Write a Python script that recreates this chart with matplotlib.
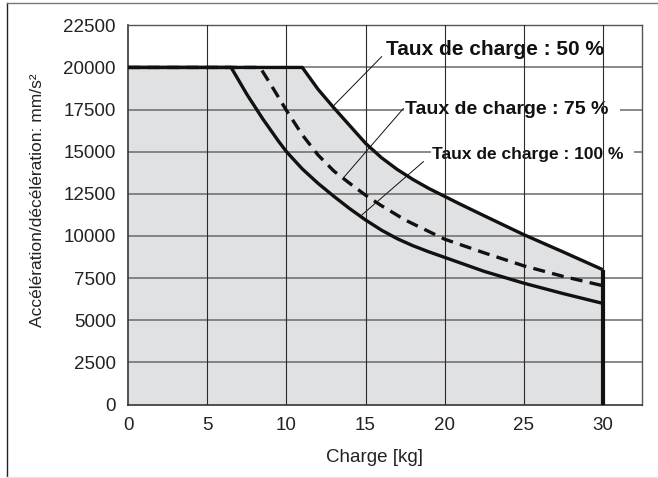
import matplotlib
matplotlib.use("Agg")
import matplotlib.pyplot as plt
from matplotlib.lines import Line2D

plt.rcParams['font.family'] = ['Liberation Sans', 'DejaVu Sans']

# Load (kg) vs. max acceleration/deceleration (mm/s²) for each duty ratio
load_50 = [0, 11, 12, 13, 14, 15, 16, 17, 18, 19, 20, 21, 22.5, 25, 27.5, 30]
acc_50 = [20000, 20000, 18700, 17600, 16550, 15500, 14650, 13950, 13350, 12820,
          12350, 11880, 11200, 10080, 9050, 8000]

load_75 = [0, 8.33, 9, 10, 11, 12, 13, 14, 15, 16, 17.5, 20, 22.5, 25, 27.5, 30]
acc_75 = [20000, 20000, 19000, 17450, 16000, 14800, 13850, 13120, 12420, 11800, 10950,
          9810, 9000, 8230, 7600, 7050]

load_100 = [0, 6.5, 7.5, 8.5, 9.5, 10, 11, 12, 13, 14, 15, 16, 17, 18, 19, 20,
            22.5, 25, 27.5, 30]
acc_100 = [20000, 20000, 18400, 16950, 15620, 15000, 13980, 13120, 12350, 11620,
           10950, 10350, 9840, 9420, 9060, 8730, 7900, 7200, 6580, 6000]

max_load = 30
x_ticks = [0, 5, 10, 15, 20, 25, 30]
y_ticks = [0, 2500, 5000, 7500, 10000, 12500, 15000, 17500, 20000, 22500]

labels = ["Taux de charge : 50 %", "Taux de charge : 75 %", "Taux de charge : 100 %"]

W, H = 658, 478
fig = plt.figure(figsize=(W / 100, H / 100), dpi=100)
ax = fig.add_axes([128.3 / W, 1 - 404.5 / H, (642.3 - 128.3) / W, (404.5 - 25.3) / H])

ax.set_xlim(0, 32.5)
ax.set_ylim(0, 22500)
ax.set_xticks(x_ticks)
ax.set_yticks(y_ticks)
ax.tick_params(length=0, labelsize=13.5, colors='#222222')
ax.tick_params(axis='x', pad=9)
ax.tick_params(axis='y', pad=9)

# Shaded operating area under the 50 % envelope
ax.fill_between(load_50, 0, acc_50, color='#e0e1e3', lw=0, zorder=1)

# Horizontal grid below label boxes, vertical grid above them
for yv in y_ticks[1:-1]:
    ax.axhline(yv, color='#6a6a6a', lw=1.1, zorder=1.5)
for xv in x_ticks[1:]:
    ax.axvline(xv, color='#2a2a2a', lw=0.8, zorder=2.6)

for side in ['top', 'right']:
    ax.spines[side].set_color('#555555')
    ax.spines[side].set_linewidth(1.0)
for side in ['left', 'bottom']:
    ax.spines[side].set_color('#333333')
    ax.spines[side].set_linewidth(1.2)

# Curves
ax.plot(load_50, acc_50, color='#111111', lw=2.4, solid_capstyle='butt',
        solid_joinstyle='round', zorder=3)
ax.plot(load_100, acc_100, color='#111111', lw=2.4, solid_capstyle='butt',
        solid_joinstyle='round', zorder=3)
ax.plot(load_75, acc_75, color='#111111', lw=2.4, dashes=(3.6, 2.2), zorder=3)
ax.plot([max_load, max_load], [0, acc_50[-1]], color='#111111', lw=3.0,
        solid_capstyle='butt', zorder=3.1)

# Labels with leader lines
ax.text(16.29, 21040, labels[0], fontsize=15, fontweight='bold', va='center',
        ha='left', color='#111111', zorder=2.5)
ax.plot([16.02, 12.95], [20640, 17700], color='#111111', lw=0.7, zorder=3)

ax.text(17.49, 17480, labels[1] + "  ", fontsize=14, fontweight='bold', va='center',
        ha='left', color='#111111', zorder=2.5,
        bbox=dict(facecolor='white', edgecolor='none', pad=0.5))
ax.plot([17.39, 13.62], [17560, 13470], color='#111111', lw=0.7, zorder=3)

ax.text(19.19, 14850, labels[2] + "  ", fontsize=12.5, fontweight='bold', va='center',
        ha='left', color='#111111', zorder=2.5,
        bbox=dict(facecolor='white', edgecolor='none', pad=0.5))
ax.plot([18.66, 14.65], [14410, 11150], color='#111111', lw=0.7, zorder=3)

# Axis titles
fig.text(375 / W, 1 - 457 / H, "Charge [kg]", fontsize=13.5, ha='center', va='center',
         color='#222222')
fig.text(38 / W, 1 - 200 / H, "Accélération/décélération: mm/s²", fontsize=12.5,
         rotation=90, ha='center', va='center', color='#222222')

# Outer frame
fig.add_artist(Line2D([7 / W, 7 / W], [1 - 476.5 / H, 1 - 3 / H], color='#222222', lw=1.0))
fig.add_artist(Line2D([7 / W, 1], [1 - 3 / H, 1 - 3 / H], color='#777777', lw=1.0))
fig.add_artist(Line2D([7 / W, 1], [1 - 476.5 / H, 1 - 476.5 / H], color='#e6e6e6', lw=1.0))

fig.savefig("out.png", dpi=100)
